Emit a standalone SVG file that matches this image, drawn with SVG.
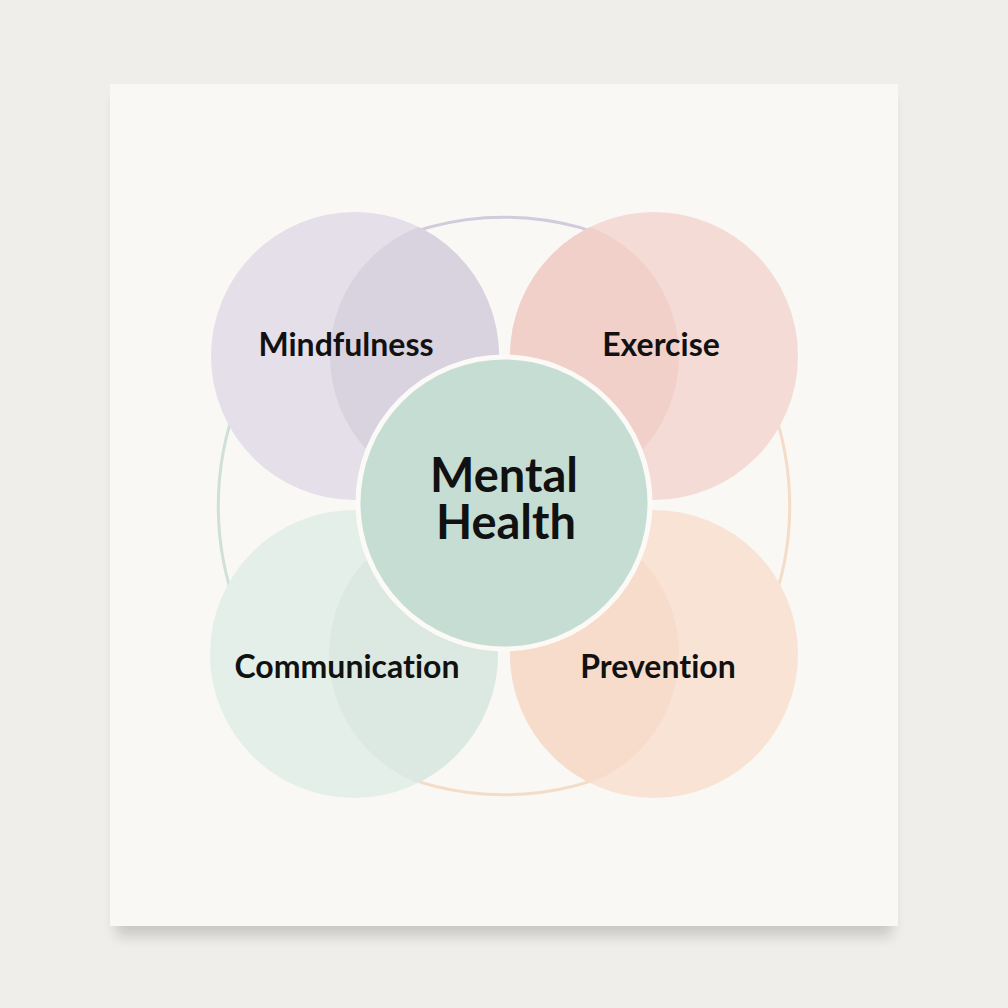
<svg xmlns="http://www.w3.org/2000/svg" width="1008" height="1008" viewBox="0 0 1008 1008">
<defs>
<style>
.lbl{font-family:Lato,"Open Sans","Liberation Sans",sans-serif;font-weight:700;fill:#111;text-anchor:middle;font-variant-ligatures:none}
.sub{font-size:32px}
.main{font-size:47px}
.ring{fill:none;stroke-width:3}
</style>
<filter id="sh" x="-10%" y="-10%" width="120%" height="130%">
<feGaussianBlur stdDeviation="7"/>
</filter>
<clipPath id="cM"><circle cx="355" cy="356" r="144"/></clipPath>
<clipPath id="cE"><circle cx="654" cy="356" r="144"/></clipPath>
<clipPath id="cC"><circle cx="354" cy="654" r="144"/></clipPath>
<clipPath id="cP"><circle cx="654" cy="654" r="144"/></clipPath>
</defs>
<rect width="1008" height="1008" fill="#efeeea"/>
<rect x="116" y="98" width="776" height="838" fill="#000" opacity="0.16" filter="url(#sh)"/>
<rect x="110" y="84" width="788" height="842" fill="#f9f8f5"/>

<g id="connectors">
<path class="ring" stroke="#d2cbdc" d="M 360,257 A 285,290 0 0 1 648,257"/>
<path class="ring" stroke="#cfe0d8" d="M 238,400 A 285,290 0 0 0 238,612"/>
<path class="ring" stroke="#f5dcc7" d="M 770,400 A 285,290 0 0 1 770,612"/>
<path class="ring" stroke="#f5dcc7" d="M 360,755 A 285,290 0 0 0 648,755"/>
</g>

<g id="mindfulness">
<circle cx="355" cy="356" r="144" fill="#e4dfe8"/>
<circle cx="468" cy="356" r="138" fill="#d9d2df" clip-path="url(#cM)"/>
<text class="lbl sub" x="346" y="356">Mindfulness</text>
</g>
<g id="exercise">
<circle cx="654" cy="356" r="144" fill="#f5dbd5"/>
<circle cx="541" cy="356" r="138" fill="#f1d0ca" clip-path="url(#cE)"/>
<text class="lbl sub" x="661" y="356">Exercise</text>
</g>
<g id="communication">
<circle cx="354" cy="654" r="144" fill="#e3efe8"/>
<circle cx="467" cy="654" r="138" fill="#dce9e2" clip-path="url(#cC)"/>
<text class="lbl sub" x="347" y="678">Communication</text>
</g>
<g id="prevention">
<circle cx="654" cy="654" r="144" fill="#f9e3d5"/>
<circle cx="541" cy="654" r="138" fill="#f8dccb" clip-path="url(#cP)"/>
<text class="lbl sub" x="658" y="678">Prevention</text>
</g>
<g id="mental-health">
<circle cx="504" cy="503" r="146" fill="#c6ddd3" stroke="#fbfaf7" stroke-width="5"/>
<text class="lbl main"><tspan x="504" y="492">Mental</tspan><tspan x="506" y="539">Health</tspan></text>
</g>
</svg>
